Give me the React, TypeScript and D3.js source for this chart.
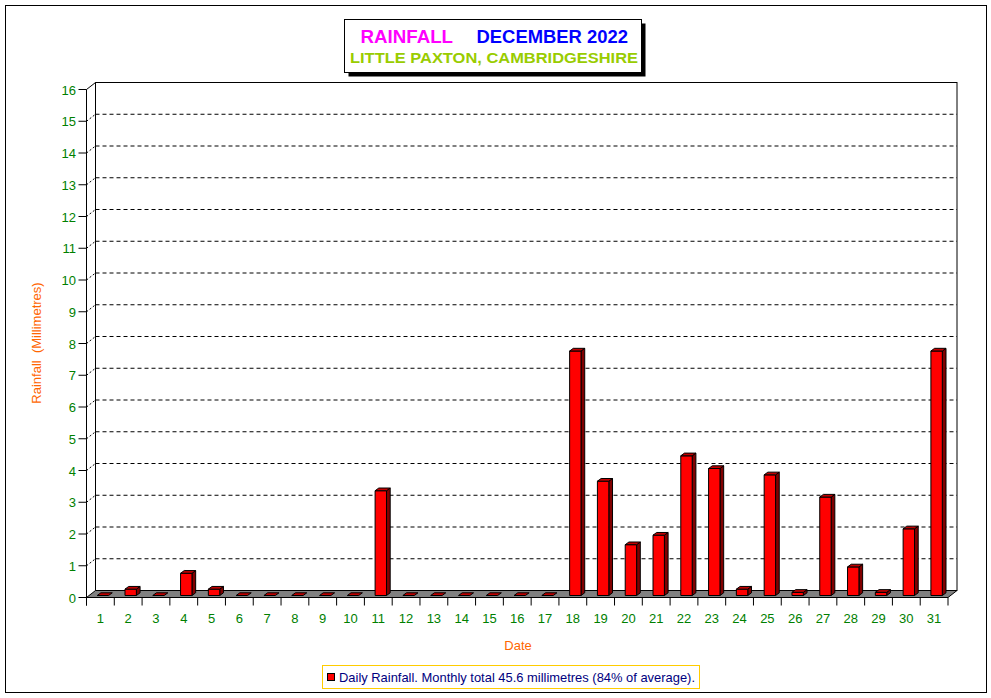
import React from "react";
import * as d3 from "d3";

const days: number[] = Array.from({ length: 31 }, (_, i) => i + 1);
const rainfall: number[] = [
  0, 0.2, 0, 0.7, 0.2, 0, 0, 0, 0, 0,
  3.3, 0, 0, 0, 0, 0, 0, 7.7, 3.6, 1.6,
  1.9, 4.4, 4.0, 0.2, 3.8, 0.1, 3.1, 0.9, 0.1, 2.1,
  7.7,
];
const yTicks: number[] = d3.range(0, 17);
const titleMain = "RAINFALL";
const titleMonth = "DECEMBER 2022";
const subtitle = "LITTLE PAXTON, CAMBRIDGESHIRE";
const yTitle = "Rainfall  (Millimetres)";
const xTitle = "Date";
const legendText = "Daily Rainfall. Monthly total 45.6 millimetres (84% of average).";

const W = 991;
const H = 698;
const FX0 = 86.5;
const FX1 = 948;
const DX = 9;
const DY = -7;
const font = "Arial, 'Liberation Sans', sans-serif";

export default function App() {
  const x = d3.scaleBand<number>().domain(days).range([FX0, FX1]).padding(0);
  const y = d3.scaleLinear().domain([0, 16]).range([597.5, 89.5]);
  const bw = x.bandwidth();
  const y0 = y(0);
  const bdx = 3.7;
  const bdy = -2.7;
  const barW = 11.4;
  const barShiftY = -2;

  const pts = (p: [number, number][]) => p.map((q) => q.join(",")).join(" ");

  return (
    <svg
      width={W}
      height={H}
      style={{ position: "absolute", left: 0, top: 0, display: "block", background: "#fff" }}
    >
      <rect x={0} y={0} width={W} height={H} fill="#fff" />
      <rect x={5.5} y={5.5} width={981} height={687} fill="none" stroke="#000" strokeWidth={1} />

      {/* Title box */}
      <rect x={348.5} y={23.5} width={297} height={53} fill="#000" />
      <rect x={344.5} y={19.5} width={297} height={53} fill="#fff" stroke="#000" strokeWidth={1} />
      <text x={360.5} y={42.7} fontFamily={font} fontWeight="bold" fontSize={18.5} fill="#ff00ff"
        textLength={92.5} lengthAdjust="spacingAndGlyphs">
        {titleMain}
      </text>
      <text x={476.5} y={42.7} fontFamily={font} fontWeight="bold" fontSize={18.5} fill="#0000ff"
        textLength={151.5} lengthAdjust="spacingAndGlyphs">
        {titleMonth}
      </text>
      <text
        x={350}
        y={62.7}
        fontFamily={font}
        fontWeight="bold"
        fontSize={14.5}
        fill="#99cc00"
        textLength={288}
        lengthAdjust="spacingAndGlyphs"
      >
        {subtitle}
      </text>

      {/* Back wall */}
      <rect x={FX0 + DX} y={y(16) + DY} width={FX1 - FX0} height={y0 - y(16)} fill="#fff" stroke="#000" strokeWidth={1} />
      {/* Gridlines */}
      {yTicks.slice(1, 16).map((t) => (
        <line
          key={"g" + t}
          x1={FX0 + DX}
          x2={FX1 + DX}
          y1={y(t) + DY}
          y2={y(t) + DY}
          stroke="#000"
          strokeDasharray="4,3"
          strokeWidth={1}
        />
      ))}
      {/* Left side wall edges */}
      <polygon
        points={pts([
          [FX0, y(16)],
          [FX0 + DX, y(16) + DY],
          [FX0 + DX, y0 + DY],
          [FX0, y0],
        ])}
        fill="#fff"
        stroke="none"
      />
      <line x1={FX0} y1={y(16)} x2={FX0 + DX} y2={y(16) + DY} stroke="#000" />
      <line x1={FX0 + DX} y1={y(16) + DY} x2={FX0 + DX} y2={y0 + DY} stroke="#000" />
      <line x1={FX0} y1={y(16)} x2={FX0} y2={y0 + 8} stroke="#000" />
      {yTicks.map((t) => (
        <g key={"yt" + t}>
          <line x1={FX0 - 8} x2={FX0} y1={y(t)} y2={y(t)} stroke="#000" />
          {t > 0 && t < 16 && (
            <line x1={FX0} y1={y(t)} x2={FX0 + DX} y2={y(t) + DY} stroke="#000" strokeDasharray="2,2" />
          )}
          <text
            x={76}
            y={y(t) + 5}
            textAnchor="end"
            fontFamily={font}
            fontSize={13}
            fill="#008000"
          >
            {t}
          </text>
        </g>
      ))}

      {/* Floor */}
      <polygon
        points={pts([
          [FX0, y0],
          [FX1, y0],
          [FX1 + DX, y0 + DY],
          [FX0 + DX, y0 + DY],
        ])}
        fill="#808080"
        stroke="#000"
        strokeWidth={1}
      />
      {/* x ticks */}
      {[...days.map((d) => x(d) as number), FX1].map((xx, i) => (
        <line key={"xt" + i} x1={xx} x2={xx} y1={y0} y2={y0 + 8} stroke="#000" />
      ))}

      {/* Bars */}
      {days.map((d, i) => {
        const v = rainfall[i];
        const cx = (x(d) as number) + bw / 2;
        const l = cx - 3.2;
        const r = l + barW;
        const b = y0 + barShiftY;
        const t = y(v) + barShiftY;
        return (
          <g key={"b" + d} stroke="#000" strokeWidth={1} strokeLinejoin="round">
            {v > 0 && (
              <>
                <polygon
                  points={pts([
                    [r, t],
                    [r + bdx, t + bdy],
                    [r + bdx, b + bdy],
                    [r, b],
                  ])}
                  fill="#800000"
                />
                <rect x={l} y={t} width={barW} height={b - t} fill="#ff0000" />
              </>
            )}
            <polygon
              points={pts([
                [l, t],
                [r, t],
                [r + bdx, t + bdy],
                [l + bdx, t + bdy],
              ])}
              fill="#c00000"
            />
          </g>
        );
      })}

      {/* x labels */}
      {days.map((d) => (
        <text
          key={"xl" + d}
          x={(x(d) as number) + bw / 2}
          y={622.5}
          textAnchor="middle"
          fontFamily={font}
          fontSize={13}
          fill="#008000"
        >
          {d}
        </text>
      ))}

      {/* Axis titles */}
      <text x={518} y={649.5} textAnchor="middle" fontFamily={font} fontSize={13} fill="#ff6600">
        {xTitle}
      </text>
      <text
        transform={`translate(40.5,343) rotate(-90)`}
        textAnchor="middle"
        fontFamily={font}
        fontSize={13}
        fill="#ff6600"
        style={{ whiteSpace: "pre" }}
      >
        {yTitle}
      </text>

      {/* Legend */}
      <rect x={322.5} y={665.5} width={377} height={23} fill="#fff" stroke="#ffcc00" strokeWidth={1} />
      <rect x={327.5} y={673.5} width={7} height={7} fill="#ff0000" stroke="#000" strokeWidth={1} />
      <text x={339} y={682} fontFamily={font} fontSize={13} fill="#000080"
        textLength={356} lengthAdjust="spacingAndGlyphs">
        {legendText}
      </text>
    </svg>
  );
}
